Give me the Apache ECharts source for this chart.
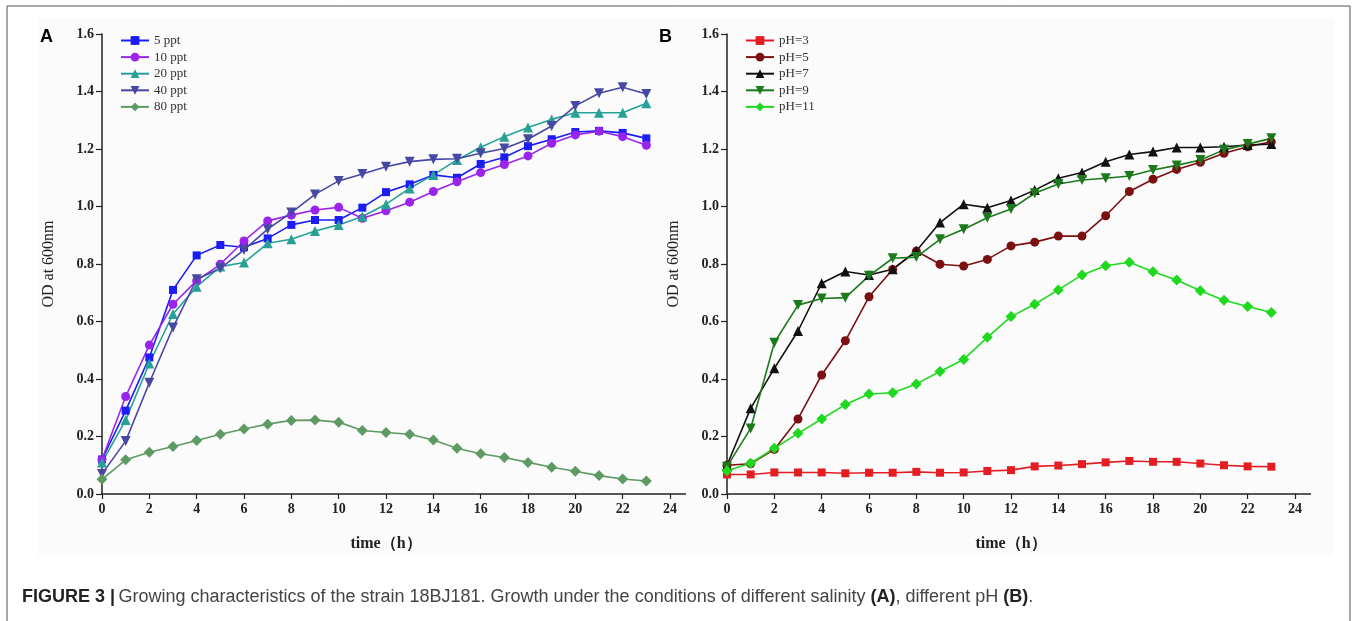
<!DOCTYPE html>
<html>
<head>
<meta charset="utf-8">
<script src="https://cdn.jsdelivr.net/npm/echarts@6/dist/echarts.min.js"></script>
<style>
  html, body { margin: 0; padding: 0; background: #fff; }
  #main { width: 1357px; height: 621px; }
</style>
</head>
<body>
<div id="main"></div>
<script>
// sampling hours
const hours = [0,1,2,3,4,5,6,7,8,9,10,11,12,13,14,15,16,17,18,19,20,21,22,23];

// panel A - salinity
const saltNames = ['5 ppt','10 ppt','20 ppt','40 ppt','80 ppt'];
const ppt5  = [0.12,0.29,0.475,0.71,0.83,0.866,0.858,0.889,0.936,0.953,0.953,0.996,1.05,1.077,1.11,1.10,1.148,1.171,1.21,1.234,1.259,1.263,1.256,1.237];
const ppt10 = [0.12,0.339,0.518,0.66,0.742,0.799,0.88,0.95,0.97,0.988,0.997,0.959,0.985,1.015,1.052,1.086,1.118,1.146,1.176,1.22,1.249,1.262,1.243,1.213];
const ppt20 = [0.11,0.257,0.454,0.626,0.721,0.791,0.805,0.872,0.886,0.915,0.936,0.965,1.008,1.063,1.11,1.162,1.206,1.243,1.275,1.303,1.326,1.326,1.326,1.359];
const ppt40 = [0.07,0.184,0.387,0.579,0.747,0.785,0.849,0.921,0.979,1.042,1.089,1.113,1.138,1.156,1.164,1.166,1.185,1.202,1.234,1.28,1.35,1.394,1.415,1.391];
const ppt80 = [0.051,0.119,0.145,0.165,0.186,0.208,0.226,0.243,0.256,0.257,0.25,0.221,0.214,0.208,0.188,0.159,0.14,0.127,0.11,0.093,0.079,0.064,0.052,0.045];

// panel B - pH
const phNames = ['pH=3','pH=5','pH=7','pH=9','pH=11'];
const ph3  = [0.068,0.068,0.075,0.075,0.075,0.072,0.074,0.074,0.077,0.074,0.075,0.08,0.083,0.096,0.099,0.104,0.11,0.115,0.112,0.112,0.106,0.1,0.096,0.095];
const ph5  = [0.1,0.105,0.155,0.261,0.414,0.533,0.686,0.781,0.845,0.799,0.793,0.816,0.863,0.876,0.897,0.897,0.968,1.052,1.095,1.129,1.154,1.185,1.208,1.225];
const ph7  = [0.1,0.298,0.437,0.567,0.733,0.774,0.762,0.782,0.845,0.944,1.008,0.996,1.021,1.057,1.098,1.118,1.156,1.181,1.191,1.205,1.205,1.208,1.214,1.217];
const ph9  = [0.095,0.228,0.526,0.657,0.68,0.683,0.759,0.82,0.824,0.886,0.921,0.961,0.991,1.046,1.078,1.092,1.098,1.106,1.127,1.143,1.162,1.197,1.217,1.237];
const ph11 = [0.081,0.107,0.159,0.211,0.261,0.311,0.348,0.352,0.383,0.426,0.468,0.545,0.617,0.66,0.71,0.762,0.794,0.806,0.773,0.744,0.707,0.674,0.652,0.631];

const serif = "'Liberation Serif', 'Times New Roman', serif";
const sans = "'Liberation Sans', Arial, sans-serif";

function pairs(vals) {
  return hours.map((h, i) => [h, vals[i]]);
}

function line(name, vals, color, symbol, size, idx, rotate) {
  return {
    name: name,
    type: 'line',
    xAxisIndex: idx,
    yAxisIndex: idx,
    data: pairs(vals),
    symbol: symbol,
    symbolSize: size,
    symbolRotate: rotate || 0,
    showAllSymbol: true,
    lineStyle: { color: color, width: 1.6 },
    itemStyle: { color: color, borderWidth: 0 },
    emphasis: { disabled: true },
    z: 3
  };
}

function xAx(idx) {
  return {
    gridIndex: idx, type: 'value', min: 0, max: 24, interval: 2,
    axisLine: { lineStyle: { color: '#222', width: 1.5 } },
    axisTick: { inside: false, length: 5, lineStyle: { color: '#222', width: 1.2 } },
    axisLabel: { color: '#222', fontFamily: serif, fontWeight: 'bold', fontSize: 14, margin: 8 },
    splitLine: { show: false },
    name: 'time（h）', nameLocation: 'middle', nameGap: 42,
    nameTextStyle: { color: '#222', fontFamily: serif, fontWeight: 'bold', fontSize: 16 }
  };
}

function yAx(idx) {
  return {
    gridIndex: idx, type: 'value', min: 0, max: 1.6, interval: 0.2,
    axisLine: { show: true, lineStyle: { color: '#222', width: 1.5 } },
    axisTick: { show: true, length: 6, lineStyle: { color: '#222', width: 1.2 } },
    axisLabel: { color: '#222', fontFamily: serif, fontWeight: 'bold', fontSize: 14, margin: 8,
      formatter: v => v.toFixed(1) },
    splitLine: { show: false },
    name: 'OD at 600nm', nameLocation: 'middle', nameGap: 45, nameRotate: 90,
    nameTextStyle: { color: '#222', fontFamily: serif, fontSize: 16 }
  };
}

function legend(names, left) {
  return {
    data: names, orient: 'vertical', left: left, top: 34,
    itemWidth: 28, itemHeight: 11, itemGap: 3.6,
    textStyle: { fontFamily: serif, fontSize: 13, color: '#333', lineHeight: 13 },
    padding: 0
  };
}

const chart = echarts.init(document.getElementById('main'));
chart.setOption({
  animation: false,
  backgroundColor: '#fff',
  grid: [
    { left: 102, top: 34, width: 568, height: 460 },
    { left: 727, top: 34, width: 568, height: 460 }
  ],
  xAxis: [xAx(0), xAx(1)],
  yAxis: [yAx(0), yAx(1)],
  legend: [legend(saltNames, 120), legend(phNames, 745)],
  series: [
    line('5 ppt', ppt5, '#1c1cf5', 'rect', 8, 0),
    line('10 ppt', ppt10, '#9a24ec', 'circle', 9, 0),
    line('20 ppt', ppt20, '#27a096', 'triangle', 10, 0),
    line('40 ppt', ppt40, '#4747a4', 'triangle', 10, 0, 180),
    line('80 ppt', ppt80, '#5e9a64', 'diamond', 11, 0),
    line('pH=3', ph3, '#e41d23', 'rect', 8, 1),
    line('pH=5', ph5, '#7c1010', 'circle', 9, 1),
    line('pH=7', ph7, '#111111', 'triangle', 10, 1),
    line('pH=9', ph9, '#1c7a1c', 'triangle', 10, 1, 180),
    line('pH=11', ph11, '#20d820', 'diamond', 11, 1)
  ],
  graphic: [
    // light figure panel and frame
    { type: 'rect', z: -10, shape: { x: 38, y: 18, width: 1296, height: 538 }, style: { fill: '#fbfbfb' } },
    { type: 'polyline', z: 10, shape: { points: [[7, 625], [7, 6], [1350, 6], [1350, 625]] },
      style: { stroke: '#555', lineWidth: 1, fill: null } },
    // axis overhang past 24
    { type: 'line', shape: { x1: 670, y1: 494, x2: 686, y2: 494 }, style: { stroke: '#222', lineWidth: 1.5 } },
    { type: 'line', shape: { x1: 1295, y1: 494, x2: 1311, y2: 494 }, style: { stroke: '#222', lineWidth: 1.5 } },
    { type: 'text', left: 40, top: 28, style: { text: 'A', font: 'bold 18px ' + sans, fill: '#000' } },
    { type: 'text', left: 659, top: 28, style: { text: 'B', font: 'bold 18px ' + sans, fill: '#000' } },
    { type: 'text', left: 22, top: 588, style: {
      text: '{b|FIGURE 3 |} {n|Growing characteristics of the strain 18BJ181. Growth under the conditions of different salinity }{b|(A)}{n|, different pH }{b|(B)}{n|.}',
      rich: {
        b: { fontFamily: sans, fontWeight: 'bold', fontSize: 18, fill: '#222' },
        n: { fontFamily: sans, fontSize: 18, fill: '#444' }
      }
    } }
  ]
});
</script>
</body>
</html>
